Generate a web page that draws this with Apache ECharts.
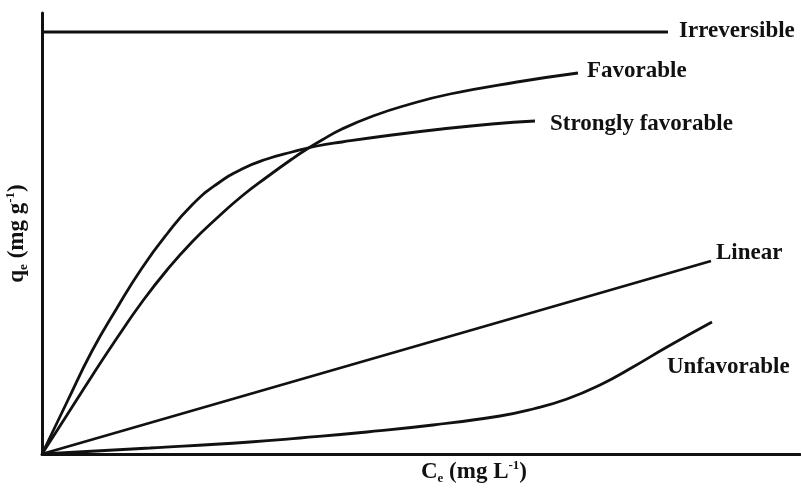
<!DOCTYPE html>
<html>
<head>
<meta charset="utf-8">
<script src="https://cdn.jsdelivr.net/npm/echarts@6/dist/echarts.min.js"></script>
<style>html,body{margin:0;padding:0;background:#fff}#c{width:801px;height:488px}</style>
</head>
<body>
<div id="c"></div>
<script>
// Values (arbitrary units: Ce along x, qe along y)
const irreversible = [[0, 422], [626, 422]];
const favorable = [[0,0],[25,39],[50,78],[75,116],[100,152],[125,184],[150,212],[175,236],[200,258],[225,277],[250,295],[265,305],[280,314],[300,325],[331,338],[365,349],[408,360],[475,372],[536,381]];
const stronglyFavorable = [[0,0],[25,52],[50,103],[75,146],[100,186],[125,220],[150,249],[175,270],[200,285],[225,295],[250,302],[275,308],[300,312],[350,319],[400,325],[450,330],[493,333]];
const linear = [[0,0],[669,193]];
const unfavorable = [[0,0],[108,6],[208,12],[258,16],[325,22],[391,29],[458,38],[491,45],[525,55],[558,69],[591,87],[625,107],[670,132]];

const seriesNames = ['Irreversible','Favorable','Strongly favorable','Linear','Unfavorable'];

const font = 'Liberation Serif';
const lblStyle = {fontFamily: font, fontWeight: 'bold', fontSize: 23, color: '#111'};

function mk(name, data, smooth, offset) {
  return {
    name, type: 'line', data, smooth, showSymbol: false, symbol: 'none',
    lineStyle: {color: '#111', width: 2.8},
    endLabel: Object.assign({show: true, formatter: name, distance: 8, offset}, lblStyle),
    silent: true, animation: false
  };
}

const rich = {
  b: {fontFamily: font, fontWeight: 'bold', fontSize: 23, color: '#111', lineHeight: 26, verticalAlign: 'middle'},
  s: {fontFamily: font, fontWeight: 'bold', fontSize: 13, color: '#111', verticalAlign: 'bottom', lineHeight: 13},
  p: {fontFamily: font, fontWeight: 'bold', fontSize: 13, color: '#111', verticalAlign: 'top', lineHeight: 13}
};

const chart = echarts.init(document.getElementById('c'), null, {renderer: 'canvas'});
chart.setOption({
  animation: false,
  grid: {left: 42, right: 1, top: 13, bottom: 34, outerBoundsMode: 'none', containLabel: false},
  xAxis: {
    type: 'value', min: 0, max: 758,
    axisLine: {lineStyle: {color: '#111', width: 3}},
    axisTick: {show: false}, axisLabel: {show: false}, splitLine: {show: false},
    name: '{b|C}{s|e}{b| (mg L}{p|-1}{b|)}',
    nameLocation: 'middle', nameGap: 5,
    nameTextStyle: {padding: [0, 0, 0, 106], rich}
  },
  yAxis: {
    type: 'value', min: 0, max: 441,
    axisLine: {lineStyle: {color: '#111', width: 3}},
    axisTick: {show: false}, axisLabel: {show: false}, splitLine: {show: false},
    name: '{b|q}{s|e}{b| (mg g}{p|-1}{b|)}',
    nameLocation: 'middle', nameGap: 12, nameRotate: 90,
    nameTextStyle: {rich}
  },
  series: [
    mk(seriesNames[0], irreversible, false, [3, -1]),
    mk(seriesNames[1], favorable, 0.5, [1, -2]),
    mk(seriesNames[2], stronglyFavorable, 0.5, [7, 3]),
    mk(seriesNames[3], linear, false, [-3, -8]),
    mk(seriesNames[4], unfavorable, 0.5, [-53, 45])
  ]
});
</script>
</body>
</html>
